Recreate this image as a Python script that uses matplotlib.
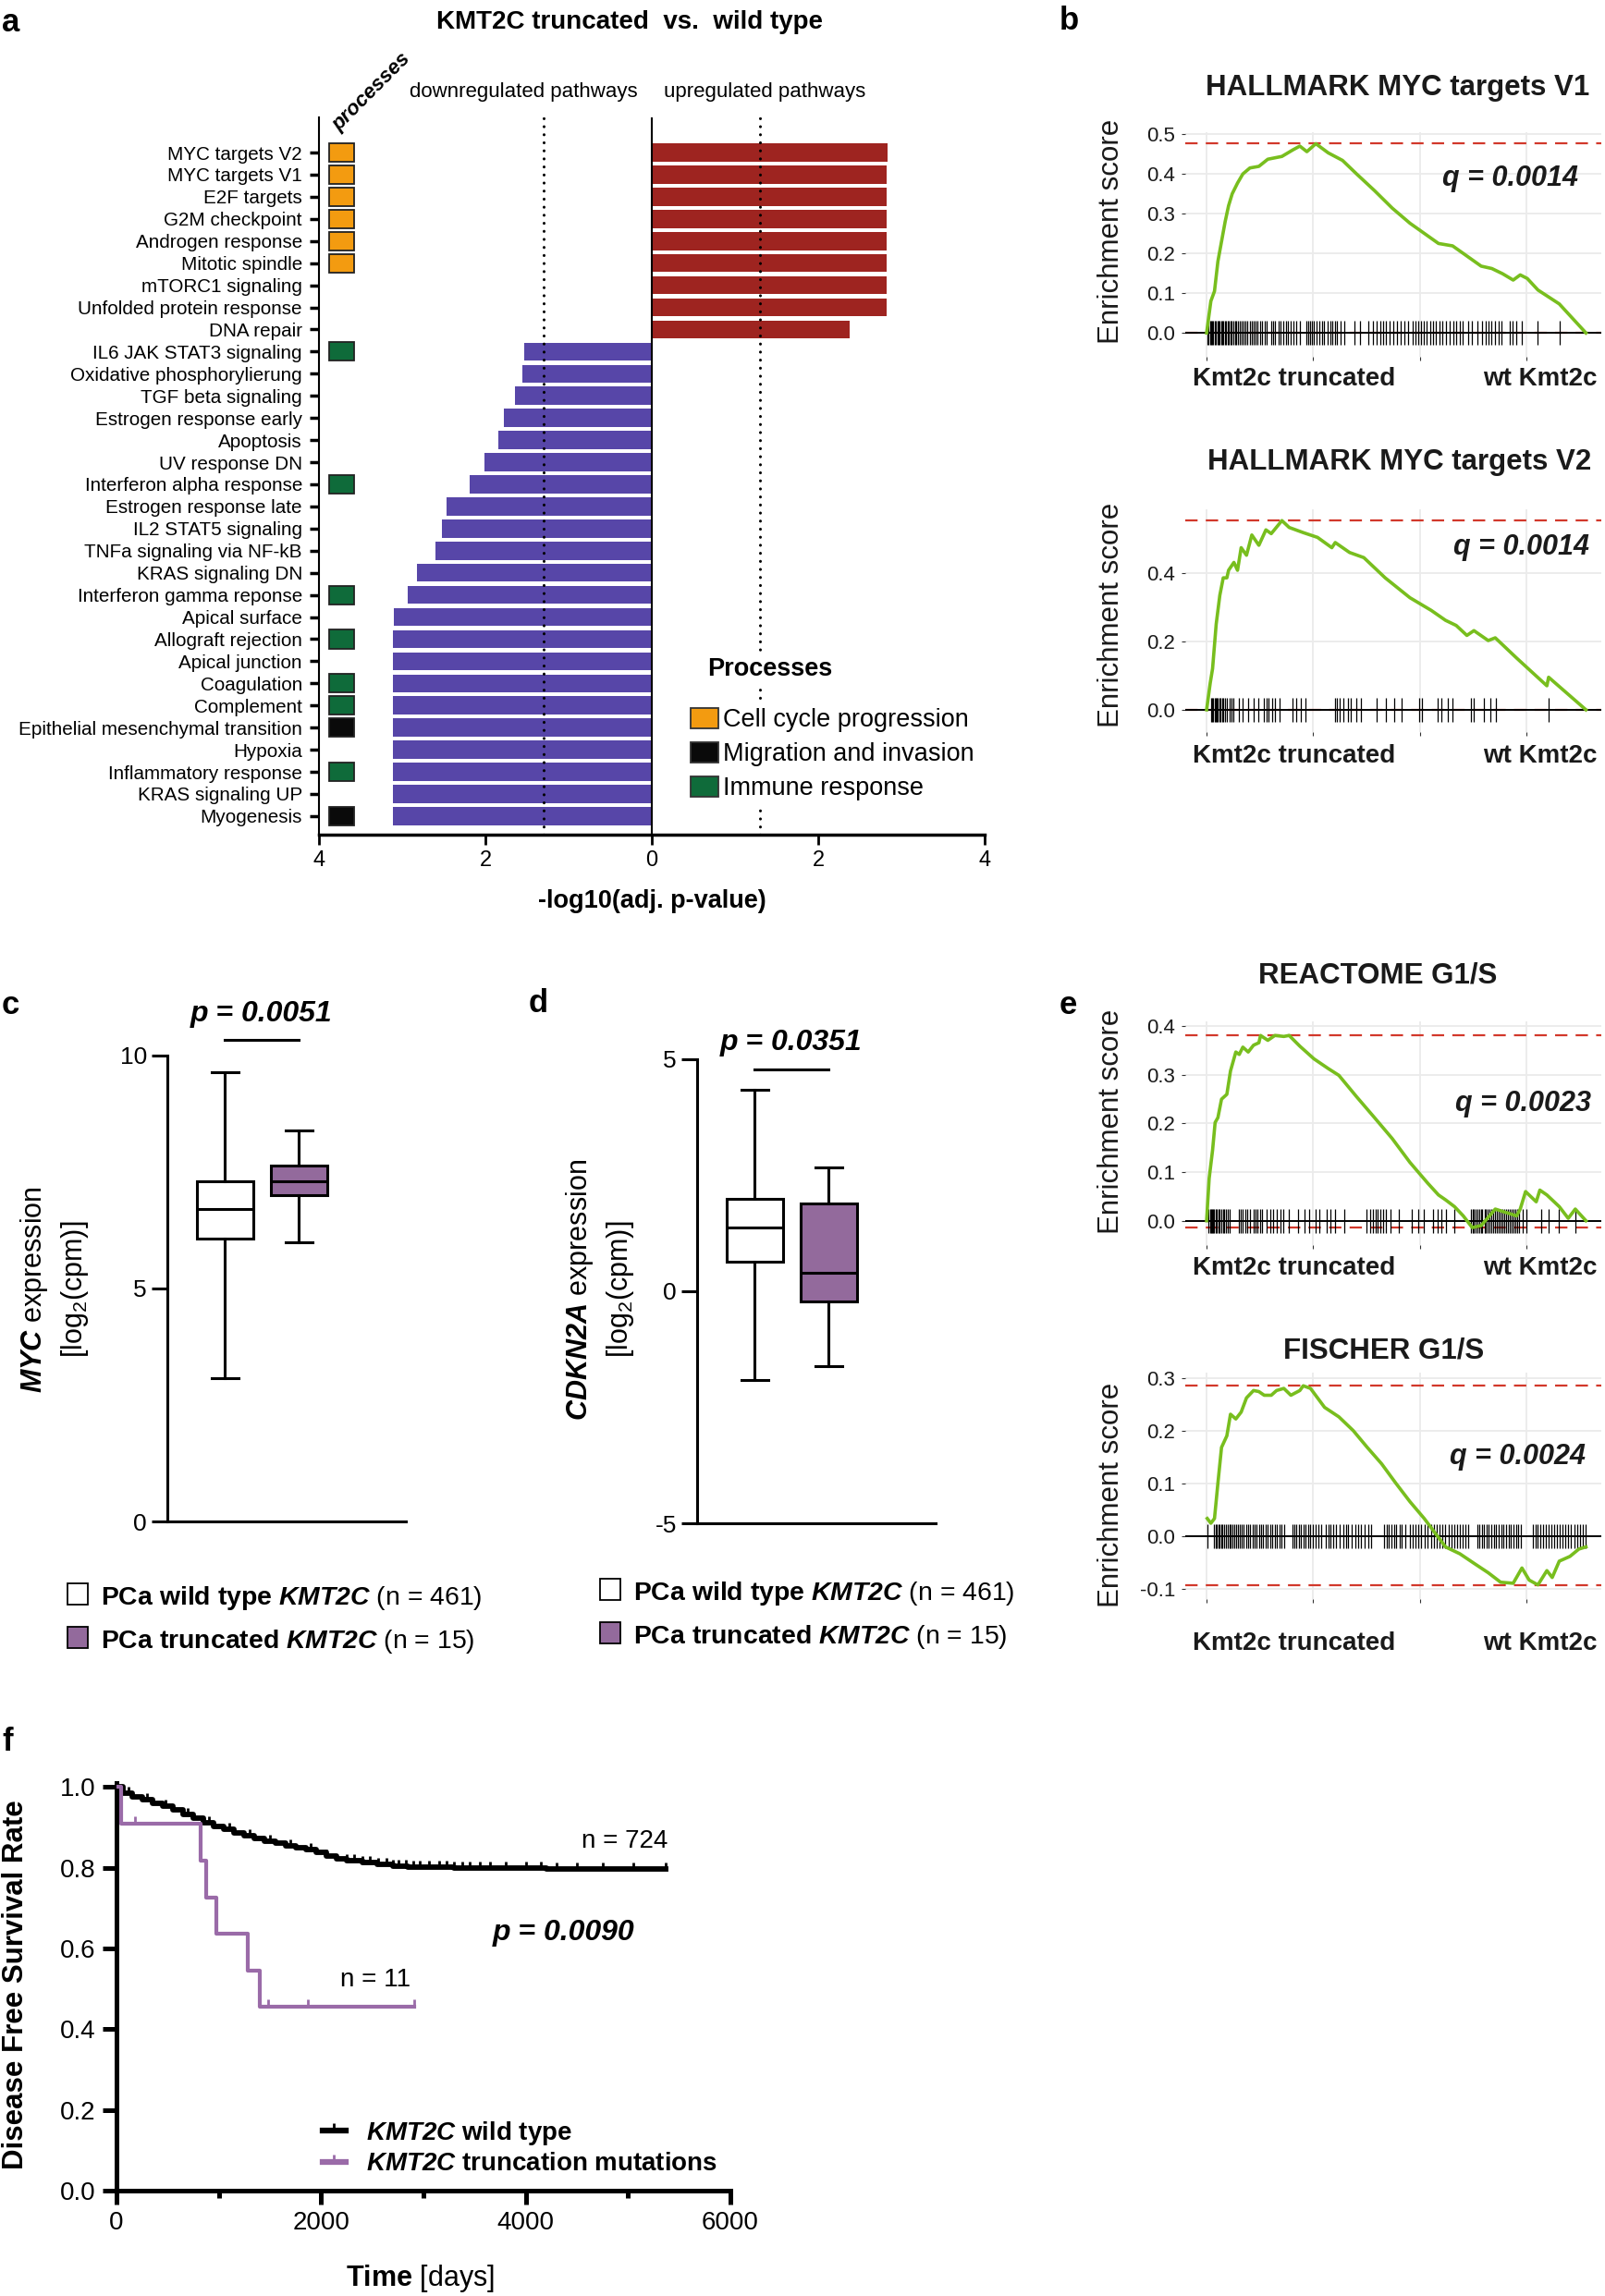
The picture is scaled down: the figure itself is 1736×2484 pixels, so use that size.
import numpy as np
import matplotlib
matplotlib.use("Agg")
import matplotlib.pyplot as plt
from matplotlib.patches import Patch, Rectangle
from matplotlib.lines import Line2D

plt.rcParams["font.family"] = ["Liberation Sans", "DejaVu Sans"]
plt.rcParams["mathtext.fontset"] = "custom"
plt.rcParams["mathtext.rm"] = "Liberation Sans"
plt.rcParams["mathtext.it"] = "Liberation Sans:italic"
plt.rcParams["mathtext.bf"] = "Liberation Sans:bold"
plt.rcParams["mathtext.bfit"] = "Liberation Sans:italic:bold"

# ---------------- data ----------------
# panel a: hallmark pathways, signed -log10(adj. p-value)
pathways = ["MYC targets V2", "MYC targets V1", "E2F targets", "G2M checkpoint",
            "Androgen response", "Mitotic spindle", "mTORC1 signaling",
            "Unfolded protein response", "DNA repair", "IL6 JAK STAT3 signaling",
            "Oxidative phosphorylierung", "TGF beta signaling", "Estrogen response early",
            "Apoptosis", "UV response DN", "Interferon alpha response",
            "Estrogen response late", "IL2 STAT5 signaling", "TNFa signaling via NF-kB",
            "KRAS signaling DN", "Interferon gamma reponse", "Apical surface",
            "Allograft rejection", "Apical junction", "Coagulation", "Complement",
            "Epithelial mesenchymal transition", "Hypoxia", "Inflammatory response",
            "KRAS signaling UP", "Myogenesis"]
scores = [2.83, 2.82, 2.82, 2.82, 2.82, 2.82, 2.82, 2.82, 2.38,
          -1.53, -1.56, -1.64, -1.78, -1.84, -2.01, -2.19, -2.47, -2.52, -2.60,
          -2.82, -2.93, -3.10, -3.11, -3.11, -3.11, -3.11, -3.11, -3.11, -3.11,
          -3.11, -3.11]
processes = ["cc", "cc", "cc", "cc", "cc", "cc", None, None, None, "imm",
             None, None, None, None, None, "imm", None, None, None, None,
             "imm", None, "imm", None, "imm", "imm", "mig", None, "imm", None, "mig"]
process_names = {"cc": "Cell cycle progression", "mig": "Migration and invasion",
                 "imm": "Immune response"}

# panels b, e: running enrichment scores (x in units of 100 ranked genes)
v1_x = [0, 2.0, 3.7, 5.3, 7.0, 8.7, 10.3, 12.0, 14.5, 17.0, 20.3, 24.5, 28.7, 35.3,
        40.3, 43.7, 47.0, 51.2, 57.0, 63.7, 70.3, 78.7, 87.0, 95.3, 100.3, 108.7,
        115.3, 120.3, 128.7, 133.7, 138.7, 143.7, 147.0, 150.3, 155.3, 165.3, 177.8]
v1_es = [0.0, 0.08, 0.105, 0.18, 0.23, 0.28, 0.32, 0.35, 0.377, 0.40, 0.415, 0.419,
         0.437, 0.444, 0.46, 0.47, 0.456, 0.476, 0.453, 0.434, 0.40, 0.358, 0.314,
         0.276, 0.257, 0.225, 0.219, 0.20, 0.168, 0.162, 0.149, 0.133, 0.146, 0.137,
         0.108, 0.073, 0.0]
v1_hits = [0.5, 1.0, 1.6, 2.1, 2.7, 3.2, 3.9, 4.4, 5.0, 5.6, 6.1, 6.8, 7.3, 7.9, 8.6,
           9.2, 9.8, 10.5, 11.1, 11.8, 12.6, 13.3, 14.0, 14.8, 15.5, 16.4, 17.2, 18.3,
           19.1, 20.2, 21.0, 21.9, 23.1, 24.0, 25.2, 26.1, 27.4, 28.3, 30.1, 31.0,
           32.2, 33.6, 34.5, 35.9, 37.2, 38.1, 39.5, 40.8, 42.1, 43.6, 46.9, 47.7,
           48.6, 49.5, 50.4, 51.6, 52.8, 54.0, 55.2, 56.9, 58.1, 59.0, 60.3, 61.2,
           62.6, 64.4, 69.5, 72.0, 75.8, 77.9, 79.6, 81.3, 82.7, 84.1, 85.9, 87.6,
           89.2, 90.8, 92.7, 94.6, 96.8, 98.0, 99.3, 100.6, 101.9, 103.2, 104.8,
           106.0, 107.5, 109.1, 110.6, 112.2, 113.9, 115.7, 117.1, 118.8, 120.2,
           122.4, 124.3, 127.0, 129.1, 130.8, 132.2, 133.6, 135.1, 136.9, 138.4,
           141.9, 143.5, 145.2, 147.8, 155.2, 165.3]

v2_x = [0, 1.7, 2.8, 4.5, 6.2, 7.8, 9.5, 10.3, 12.8, 14.5, 16.2, 18.7, 21.2, 24.5,
        27.8, 30.3, 35.3, 38.7, 45.3, 52.0, 58.7, 60.3, 67.0, 73.7, 83.7, 95.3,
        105.3, 112.0, 117.0, 122.0, 125.3, 132.0, 135.3, 145.3, 159.5, 160.3, 177.8]
v2_es = [0.0, 0.078, 0.12, 0.25, 0.334, 0.385, 0.385, 0.407, 0.43, 0.407, 0.473,
         0.451, 0.51, 0.48, 0.525, 0.514, 0.552, 0.532, 0.517, 0.503, 0.473, 0.488,
         0.459, 0.444, 0.385, 0.327, 0.29, 0.261, 0.246, 0.217, 0.231, 0.202, 0.21,
         0.151, 0.07, 0.095, 0.0]
v2_hits = [2.0, 2.6, 3.1, 3.7, 4.2, 4.8, 5.3, 5.9, 6.5, 7.2, 7.9, 8.7, 9.6, 10.6,
           11.7, 12.6, 15.1, 17.0, 19.4, 22.1, 24.3, 27.0, 28.1, 29.2, 30.6, 32.0,
           34.2, 40.1, 42.2, 44.0, 46.3, 60.0, 61.1, 62.4, 64.2, 66.1, 67.6, 70.0,
           72.3, 79.8, 84.0, 88.1, 91.2, 99.6, 101.0, 108.2, 110.1, 113.0, 115.2,
           124.0, 125.3, 130.1, 133.0, 135.4, 160.3]

re_x = [0, 1.2, 2.8, 4.0, 5.3, 7.0, 9.5, 11.2, 13.7, 15.3, 17.0, 19.5, 22.0, 24.5,
        25.3, 28.7, 32.0, 36.2, 38.7, 43.7, 50.3, 57.0, 62.0, 70.3, 78.7, 87.0,
        95.3, 103.7, 108.7, 112.0, 116.2, 120.3, 124.5, 128.7, 135.3, 140.3, 145.3,
        147.0, 149.5, 154.5, 156.2, 159.5, 165.3, 169.5, 172.8, 177.8]
re_es = [0.0, 0.087, 0.145, 0.202, 0.212, 0.25, 0.26, 0.308, 0.347, 0.342, 0.357,
         0.347, 0.361, 0.366, 0.381, 0.371, 0.381, 0.379, 0.381, 0.359, 0.333, 0.313,
         0.299, 0.255, 0.212, 0.169, 0.12, 0.077, 0.053, 0.043, 0.029, 0.01, -0.014,
         -0.01, 0.024, 0.017, 0.01, 0.024, 0.06, 0.039, 0.063, 0.053, 0.029, 0.005,
         0.024, 0.0]
re_hits = [1.0, 1.5, 2.0, 2.6, 3.1, 3.6, 4.2, 4.9, 5.5, 6.1, 6.9, 7.6, 8.3, 9.1, 10.0,
           11.0, 15.0, 16.1, 17.0, 18.1, 19.0, 20.2, 22.0, 23.1, 24.0, 25.2, 26.0,
           28.2, 30.0, 31.1, 33.0, 34.5, 36.1, 38.6, 43.0, 46.1, 48.0, 51.2, 53.0,
           56.1, 58.2, 60.0, 64.5, 75.0, 76.8, 78.0, 79.1, 80.2, 81.3, 82.6, 84.0,
           86.1, 90.2, 96.0, 99.1, 102.0, 106.2, 108.1, 110.0, 112.2, 116.1, 124.0,
           124.6, 125.2, 126.0, 126.9, 127.7, 128.5, 129.3, 130.2, 131.0, 131.9,
           132.7, 133.5, 134.4, 135.2, 136.1, 137.0, 137.8, 138.7, 139.6, 140.4,
           141.3, 142.2, 143.1, 144.0, 144.8, 145.7, 146.6, 148.2, 149.9, 157.0,
           160.1, 165.2, 173.0]

fi_x = [0.3, 2.0, 3.7, 5.3, 7.0, 9.5, 11.2, 13.7, 16.2, 18.7, 22.0, 24.5, 27.0, 30.3,
        32.8, 36.2, 39.5, 43.7, 45.3, 48.7, 55.3, 62.0, 68.7, 75.3, 82.0, 88.7, 95.3,
        102.0, 107.0, 112.0, 118.7, 125.3, 132.0, 137.8, 143.7, 147.8, 151.2, 155.3,
        159.5, 162.0, 165.3, 170.3, 174.5, 177.8]
fi_es = [0.033, 0.024, 0.033, 0.10, 0.168, 0.19, 0.231, 0.222, 0.235, 0.262, 0.276,
         0.274, 0.267, 0.267, 0.276, 0.28, 0.267, 0.276, 0.285, 0.28, 0.244, 0.226,
         0.20, 0.168, 0.137, 0.10, 0.065, 0.033, 0.006, -0.021, -0.034, -0.052,
         -0.07, -0.088, -0.09, -0.061, -0.084, -0.093, -0.066, -0.079, -0.048,
         -0.039, -0.025, -0.021]
fi_hits = [0.3, 3.5, 4.2, 4.9, 5.6, 6.2, 6.9, 7.5, 8.3, 9.0, 9.8, 10.6, 11.3, 12.1,
           13.0, 13.8, 14.9, 15.7, 16.6, 17.5, 18.6, 19.4, 20.3, 21.5, 22.4, 23.3,
           24.5, 25.4, 26.6, 27.5, 28.6, 29.8, 30.7, 31.9, 33.0, 34.1, 35.2, 36.5,
           40.2, 41.1, 42.0, 43.2, 44.1, 45.3, 46.4, 47.6, 48.5, 49.9, 51.2, 52.6,
           53.8, 55.9, 57.1, 58.2, 59.3, 60.8, 62.5, 64.0, 65.2, 66.3, 68.0, 69.9,
           71.2, 72.4, 74.1, 75.6, 76.9, 83.3, 84.4, 85.5, 86.7, 87.8, 89.0, 90.4,
           91.6, 93.1, 95.2, 96.4, 97.7, 99.1, 100.5, 102.3, 103.6, 105.1, 106.4,
           107.9, 109.2, 110.4, 111.9, 113.6, 115.0, 116.2, 117.5, 118.8, 120.1,
           121.4, 122.7, 126.8, 127.9, 128.9, 130.1, 131.2, 132.3, 133.4, 134.6,
           135.7, 136.9, 138.0, 139.2, 140.3, 141.5, 142.6, 143.8, 145.0, 146.2,
           147.5, 152.9, 154.1, 155.2, 156.3, 157.6, 158.8, 160.3, 161.7, 162.9,
           164.2, 165.6, 166.9, 168.3, 169.5, 170.9, 172.4, 173.8, 175.1, 176.5, 177.7]

# panels c, d: box statistics (whisker low, Q1, median, Q3, whisker high)
groups = ["PCa wild type", "PCa truncated"]
group_n = [461, 15]
myc_stats = [(3.08, 6.08, 6.71, 7.31, 9.64), (5.99, 7.0, 7.31, 7.63, 8.39)]
cdkn2a_stats = [(-1.91, 0.63, 1.38, 2.0, 4.35), (-1.61, -0.21, 0.39, 1.9, 2.66)]

# panel f: Kaplan-Meier disease free survival
wt_times = [0, 60, 150, 250, 350, 450, 550, 650, 750, 850, 950, 1050, 1150, 1250,
            1350, 1450, 1550, 1650, 1750, 1850, 1950, 2050, 2150, 2250, 2400, 2550,
            2700, 2850, 3300, 4200]
wt_surv = [1.0, 0.985, 0.975, 0.968, 0.960, 0.952, 0.943, 0.932, 0.922, 0.912, 0.903,
           0.895, 0.887, 0.879, 0.872, 0.866, 0.860, 0.854, 0.850, 0.846, 0.838, 0.830,
           0.823, 0.818, 0.813, 0.808, 0.804, 0.801, 0.799, 0.797]
wt_end = 5366
wt_censor = [120, 300, 480, 700, 900, 1100, 1300, 1500, 1700, 1900, 2050, 2250, 2320,
             2400, 2480, 2560, 2640, 2700, 2760, 2830, 2900, 2960, 3050, 3150, 3230,
             3300, 3380, 3450, 3550, 3650, 3800, 4000, 4150, 4300, 4500, 4750, 5050, 5366]
mut_times = [0, 42, 821, 873, 977, 1283, 1403]
mut_surv = [1.0, 0.909, 0.818, 0.727, 0.636, 0.545, 0.455]
mut_end = 2909
mut_censor = [182, 1480, 1870, 2909]

# ---------------- colours ----------------
RED = "#9E2420"
PURPLE = "#5746A8"
PROC_COL = {"cc": "#F39B10", "mig": "#0A0A0A", "imm": "#0F6B3A"}
GREEN = "#78BE1E"
DASH_RED = "#D2382B"
BOX_PURPLE = "#936A9C"
KM_PURPLE = "#9A6BA8"

W, H = 1736, 2484
fig = plt.figure(figsize=(W / 100, H / 100), dpi=100)


def add_ax(l, t, r, b):
    return fig.add_axes([l / W, 1 - b / H, (r - l) / W, (b - t) / H])


def T(x, y, s, **kw):
    kw.setdefault("ha", "center")
    kw.setdefault("va", "center")
    return fig.text(x / W, 1 - y / H, s, **kw)


# panel letters
for letter, (lx, ly) in {"a": (2, 24), "b": (1146, 23), "c": (2, 1088),
                         "d": (572, 1086), "e": (1146, 1088), "f": (2, 1884)}.items():
    T(lx, ly, letter, ha="left", fontsize=25, fontweight="bold")

# ---------------- panel a ----------------
axA = add_ax(345, 127, 1065, 903)
rows = np.arange(len(pathways))
bar_cols = [RED if s > 0 else PURPLE for s in scores]
axA.barh(rows, scores, height=0.82, color=bar_cols, zorder=2)
p_idx = [i for i, p in enumerate(processes) if p]
axA.barh(p_idx, 0.3, left=-3.88, height=0.84,
         color=[PROC_COL[processes[i]] for i in p_idx],
         edgecolor="#222222", linewidth=1.3, zorder=3)
axA.axvline(0, color="black", lw=1.5, zorder=3)
for v in (-1.3, 1.3):
    axA.axvline(v, color="black", lw=2.2, ls=(0, (0.05, 2.8)),
                dash_capstyle="round", zorder=3)
axA.set_xlim(-4, 4)
axA.set_ylim(30.84, -1.59)
axA.set_yticks(rows)
axA.set_yticklabels(pathways, fontsize=14.9)
axA.set_xticks([-4, -2, 0, 2, 4])
axA.set_xticklabels(["4", "2", "0", "2", "4"], fontsize=17)
for s in ("top", "right"):
    axA.spines[s].set_visible(False)
axA.spines["left"].set_linewidth(1.5)
axA.spines["bottom"].set_linewidth(2.5)
axA.tick_params(axis="y", length=7, width=2.5, pad=6)
axA.tick_params(axis="x", length=8, width=2, pad=4)

handles = [Patch(facecolor=PROC_COL[k], edgecolor="#333333", lw=1.3)
           for k in ("cc", "mig", "imm")]
leg = axA.legend(handles, [process_names[k] for k in ("cc", "mig", "imm")],
                 loc="upper left", bbox_to_anchor=(0.553, 0.182), fontsize=19.5,
                 frameon=True, facecolor="white", edgecolor="white", framealpha=1,
                 handlelength=1.1, handleheight=0.9, handletextpad=0.2,
                 labelspacing=0.38, borderpad=0.15, borderaxespad=0)
leg.set_zorder(6)
axA.text(0.678, 1 - (724 - 127) / 776, "Processes", transform=axA.transAxes,
         ha="center", va="center", fontsize=19.5, fontweight="bold", zorder=7,
         bbox=dict(facecolor="white", edgecolor="none", pad=4))

T(681, 24, "KMT2C truncated  vs.  wild type", fontsize=20, fontweight="bold")
T(566, 99, "downregulated pathways", fontsize=16)
T(827, 99, "upregulated pathways", fontsize=16)
T(402, 100, "processes", rotation=45, fontsize=16, fontweight="bold",
  fontstyle="italic")
T(705, 975, "-log10(adj. p-value)", fontsize=19.5, fontweight="bold")


# ---------------- panels b, e ----------------
def gsea(rect, x, es, hits, hit_h, ylim, yticks, title, title_xy, q, q_xy,
         lab_y, ylab_y):
    ax = add_ax(*rect)
    ax.plot(x, es, color=GREEN, lw=2.6, zorder=4)
    ax.axhline(max(es), color=DASH_RED, lw=1.6, ls=(0, (6, 4)), zorder=2)
    ax.axhline(min(es), color=DASH_RED, lw=1.6, ls=(0, (6, 4)), zorder=2)
    ax.axhline(0, color="black", lw=1.4, zorder=3)
    ax.vlines(hits, -hit_h, hit_h, color="black", lw=0.9, zorder=3)
    ax.set_xlim(-10, 185)
    ax.set_ylim(*ylim)
    ax.set_xticks([0, 50, 100, 150])
    ax.set_xticklabels([])
    ax.set_yticks(yticks)
    ax.set_yticklabels([f"{v:.1f}" for v in yticks], fontsize=16, color="#1a1a1a")
    ax.grid(True, color="#EBEBEB", lw=1.3)
    ax.set_axisbelow(True)
    for s in ax.spines.values():
        s.set_visible(False)
    ax.tick_params(length=3, color="#333333", pad=5)
    T(title_xy[0], title_xy[1], title, fontsize=22.5, fontweight="bold", color="#1a1a1a")
    T(q_xy[0], q_xy[1], q, fontsize=22, fontweight="bold", fontstyle="italic",
      color="#1a1a1a")
    T(1290, lab_y, "Kmt2c truncated", ha="left", fontsize=20, fontweight="bold",
      color="#1a1a1a")
    T(1728, lab_y, "wt Kmt2c", ha="right", fontsize=20, fontweight="bold",
      color="#1a1a1a")
    T(1202, ylab_y, "Enrichment score", rotation=90, fontsize=22.5, color="#1a1a1a")
    return ax


gsea((1282, 143, 1732, 386), v1_x, v1_es, v1_hits, 0.03, (-0.06, 0.505),
     [0.0, 0.1, 0.2, 0.3, 0.4, 0.5], "HALLMARK MYC targets V1", (1512, 95),
     "q = 0.0014", (1634, 193), 410, 250)
gsea((1282, 551, 1732, 792), v2_x, v2_es, v2_hits, 0.035, (-0.065, 0.585),
     [0.0, 0.2, 0.4], "HALLMARK MYC targets V2", (1514, 500),
     "q = 0.0014", (1645, 592), 818, 665)
gsea((1282, 1105, 1732, 1347), re_x, re_es, re_hits, 0.025, (-0.05, 0.41),
     [0.0, 0.1, 0.2, 0.3, 0.4], "REACTOME G1/S", (1490, 1056),
     "q = 0.0023", (1648, 1194), 1372, 1213)
gsea((1282, 1485, 1732, 1730), fi_x, fi_es, fi_hits, 0.023, (-0.12, 0.31),
     [-0.1, 0.0, 0.1, 0.2, 0.3], "FISCHER G1/S", (1497, 1462),
     "q = 0.0024", (1641, 1576), 1778, 1617)


# ---------------- panels c, d ----------------
def boxpanel(rect, stats, ylim, yticks, gene, ylab_x, sig_y, p_text, p_y, leg_x, leg_y):
    ax = add_ax(*rect)
    bxp = [dict(whislo=s[0], q1=s[1], med=s[2], q3=s[3], whishi=s[4], label="")
           for s in stats]
    pos = [1.0, 2.28]
    lw = 2.2
    art = ax.bxp(bxp, positions=pos, widths=0.99, capwidths=0.47, showfliers=False,
                 patch_artist=True,
                 boxprops=dict(linewidth=lw, edgecolor="black"),
                 whiskerprops=dict(linewidth=lw), capprops=dict(linewidth=lw),
                 medianprops=dict(linewidth=lw, color="black"))
    for b, fc in zip(art["boxes"], ["white", BOX_PURPLE]):
        b.set_facecolor(fc)
    ax.plot(pos, [sig_y, sig_y], color="black", lw=2.2, clip_on=False)
    ax.text(1.62, p_y, p_text, ha="center", va="center", fontsize=23,
            fontweight="bold", fontstyle="italic")
    ax.set_xlim(0, 4.13)
    ax.set_ylim(*ylim)
    ax.set_yticks(yticks)
    ax.set_yticklabels([str(v) for v in yticks], fontsize=19)
    ax.set_xticks([])
    for s in ("top", "right"):
        ax.spines[s].set_visible(False)
    ax.spines["left"].set_linewidth(2.2)
    ax.spines["bottom"].set_linewidth(2.2)
    ax.tick_params(axis="y", length=12, width=2.2, pad=4)
    yc = 1395
    T(ylab_x, yc, rf"$\mathbfit{{{gene}}}$ expression", rotation=90, fontsize=22)
    T(ylab_x + 44, yc, r"[log$_2$(cpm)]", rotation=90, fontsize=22)
    for i, (g, n, fc) in enumerate(zip(groups, group_n, ["white", BOX_PURPLE])):
        cy = leg_y + i * 47
        fig.patches.append(Rectangle(((leg_x) / W, 1 - (cy + 11) / H), 22 / W, 23 / H,
                                     transform=fig.transFigure, facecolor=fc,
                                     edgecolor="black", lw=1.3))
        g_tex = g.replace(" ", r"\ ")
        T(leg_x + 36, cy, rf"$\mathbf{{{g_tex}}}$ $\mathbfit{{KMT2C}}$ (n = {n})",
          ha="left", va="center_baseline", fontsize=20.4)
    return ax


boxpanel((181, 1142, 439, 1646), myc_stats, (0, 10), [0, 5, 10], "MYC", 37,
         10.34, "p = 0.0051", 10.9, 73, 1725)
boxpanel((754, 1146, 1012, 1648), cdkn2a_stats, (-5, 5), [-5, 0, 5], "CDKN2A", 627,
         4.78, "p = 0.0351", 5.36, 649, 1720)

# ---------------- panel f ----------------
axF = add_ax(126, 1929, 790, 2370)


def km(ax, times, surv, end, censor, color, lw, ms):
    t = np.append(times, end)
    s = np.append(surv, surv[-1])
    ax.step(t, s, where="post", color=color, lw=lw, zorder=3)
    idx = np.searchsorted(times, censor, side="right") - 1
    ax.plot(censor, np.asarray(surv)[idx], ls="none", marker=2, ms=ms, mew=2,
            color=color, zorder=3)


km(axF, wt_times, wt_surv, wt_end, wt_censor, "black", 4.2, 5)
km(axF, mut_times, mut_surv, mut_end, mut_censor, KM_PURPLE, 3, 6)
axF.set_xlim(0, 6000)
axF.set_ylim(0, 1.01)
axF.set_xticks([0, 2000, 4000, 6000])
axF.set_xticks([1000, 3000, 5000], minor=True)
axF.set_yticks([0, 0.2, 0.4, 0.6, 0.8, 1.0])
axF.set_yticklabels(["0.0", "0.2", "0.4", "0.6", "0.8", "1.0"], fontsize=20)
axF.set_xticklabels(["0", "2000", "4000", "6000"], fontsize=20)
for s in ("top", "right"):
    axF.spines[s].set_visible(False)
axF.spines["left"].set_linewidth(3.6)
axF.spines["bottom"].set_linewidth(3.6)
axF.tick_params(axis="both", which="major", length=11, width=3.6, pad=5)
axF.tick_params(axis="x", which="minor", length=6, width=3.6)
axF.text(4968, 0.865, "n = 724", ha="center", va="center", fontsize=20)
axF.text(2534, 0.522, "n = 11", ha="center", va="center", fontsize=20)
axF.text(4371, 0.64, "p = 0.0090", ha="center", va="center", fontsize=23,
         fontweight="bold", fontstyle="italic")
km_handles = [Line2D([0], [0], color="black", lw=4.5, marker=2, ms=6, mew=2),
              Line2D([0], [0], color=KM_PURPLE, lw=4.5, marker=2, ms=6, mew=2)]
axF.legend(km_handles, [r"$\mathbfit{KMT2C}$ wild type",
                        r"$\mathbfit{KMT2C}$ truncation mutations"],
           loc="center left", bbox_to_anchor=(0.298, 0.105), frameon=False,
           prop=dict(size=20, weight="bold"), handlelength=0.9, handletextpad=0.8,
           labelspacing=0.2)
T(17, 2147, "Disease Free Survival Rate", rotation=90, fontsize=22.5, fontweight="bold")
T(454, 2465, r"$\mathbf{Time}$ [days]", fontsize=22)

fig.savefig("out.png", dpi=100)
